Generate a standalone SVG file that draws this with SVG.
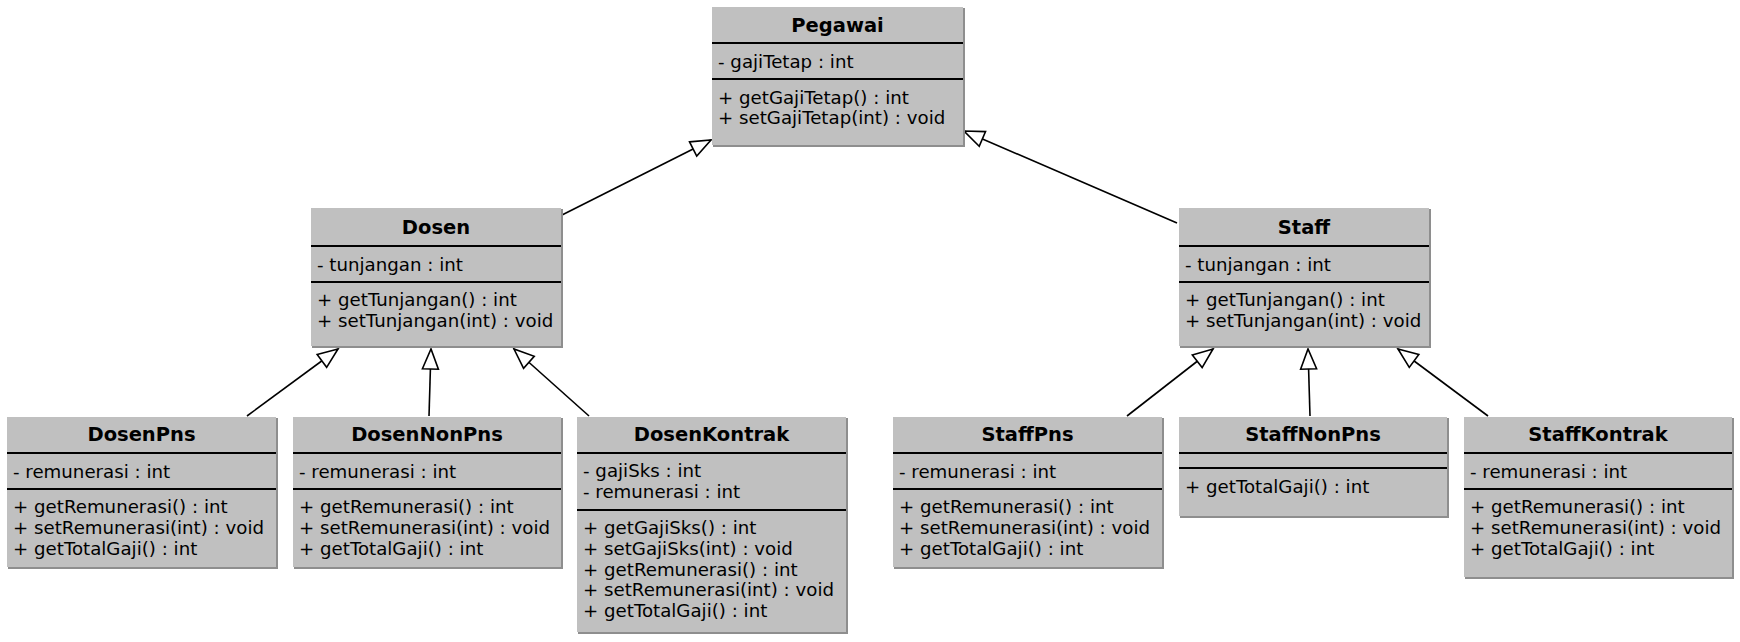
<svg xmlns="http://www.w3.org/2000/svg" width="1740" height="642" viewBox="0 0 1740 642">
<defs>
<style>
.box{fill:#c0c0c0;}
.shadow{fill:#8e8e8e;}
.sep{stroke:#000;stroke-width:2;}
.title{font-family:"DejaVu Sans",sans-serif;font-size:19.5px;font-weight:bold;text-anchor:middle;fill:#000;}
.txt{font-family:"DejaVu Sans",sans-serif;font-size:18.2px;fill:#000;}
.edge{stroke:#000;stroke-width:1.6;fill:none;marker-end:url(#gen);}
</style>
<marker id="gen" viewBox="0 0 22 18" refX="21" refY="9" markerWidth="22" markerHeight="18" markerUnits="userSpaceOnUse" orient="auto" overflow="visible">
<path d="M1,1 L21,9 L1,17 Z" fill="#fff" stroke="#000" stroke-width="1.6" stroke-linejoin="miter"/>
</marker>
</defs>
<rect width="1740" height="642" fill="#fff"/>

<g id="connectors">
<line class="edge" x1="562" y1="215" x2="711" y2="140"/>
<line class="edge" x1="1177" y1="223" x2="964" y2="131"/>
<line class="edge" x1="247" y1="416" x2="338" y2="349"/>
<line class="edge" x1="429" y1="416" x2="431" y2="349"/>
<line class="edge" x1="589" y1="416" x2="514" y2="349"/>
<line class="edge" x1="1127" y1="416" x2="1213" y2="349"/>
<line class="edge" x1="1310" y1="416" x2="1308" y2="349"/>
<line class="edge" x1="1488" y1="416" x2="1398" y2="349"/>
</g>

<g id="Pegawai">
<rect class="shadow" x="713" y="8" width="252" height="139"/>
<rect class="box" x="712" y="7" width="251" height="138"/>
<line class="sep" x1="712" y1="43" x2="963" y2="43"/>
<line class="sep" x1="712" y1="79" x2="963" y2="79"/>
<text class="title" x="837.5" y="32">Pegawai</text>
<text class="txt" x="718" y="68">- gajiTetap : int</text>
<text class="txt" x="718" y="104">+ getGajiTetap() : int</text>
<text class="txt" x="718" y="124">+ setGajiTetap(int) : void</text>
</g>

<g id="Dosen">
<rect class="shadow" x="312" y="209" width="251" height="139"/>
<rect class="box" x="311" y="208" width="250" height="138"/>
<line class="sep" x1="311" y1="246" x2="561" y2="246"/>
<line class="sep" x1="311" y1="282" x2="561" y2="282"/>
<text class="title" x="436" y="234">Dosen</text>
<text class="txt" x="317" y="271">- tunjangan : int</text>
<text class="txt" x="317" y="306">+ getTunjangan() : int</text>
<text class="txt" x="317" y="327">+ setTunjangan(int) : void</text>
</g>

<g id="Staff">
<rect class="shadow" x="1180" y="209" width="251" height="139"/>
<rect class="box" x="1179" y="208" width="250" height="138"/>
<line class="sep" x1="1179" y1="246" x2="1429" y2="246"/>
<line class="sep" x1="1179" y1="282" x2="1429" y2="282"/>
<text class="title" x="1304" y="234">Staff</text>
<text class="txt" x="1185" y="271">- tunjangan : int</text>
<text class="txt" x="1185" y="306">+ getTunjangan() : int</text>
<text class="txt" x="1185" y="327">+ setTunjangan(int) : void</text>
</g>

<g id="DosenPns">
<rect class="shadow" x="8" y="418" width="270" height="151"/>
<rect class="box" x="7" y="417" width="269" height="150"/>
<line class="sep" x1="7" y1="453" x2="276" y2="453"/>
<line class="sep" x1="7" y1="489" x2="276" y2="489"/>
<text class="title" x="141.5" y="441">DosenPns</text>
<text class="txt" x="13" y="478">- remunerasi : int</text>
<text class="txt" x="13" y="513">+ getRemunerasi() : int</text>
<text class="txt" x="13" y="534">+ setRemunerasi(int) : void</text>
<text class="txt" x="13" y="555">+ getTotalGaji() : int</text>
</g>

<g id="DosenNonPns">
<rect class="shadow" x="294" y="418" width="269" height="151"/>
<rect class="box" x="293" y="417" width="268" height="150"/>
<line class="sep" x1="293" y1="453" x2="561" y2="453"/>
<line class="sep" x1="293" y1="489" x2="561" y2="489"/>
<text class="title" x="427" y="441">DosenNonPns</text>
<text class="txt" x="299" y="478">- remunerasi : int</text>
<text class="txt" x="299" y="513">+ getRemunerasi() : int</text>
<text class="txt" x="299" y="534">+ setRemunerasi(int) : void</text>
<text class="txt" x="299" y="555">+ getTotalGaji() : int</text>
</g>

<g id="DosenKontrak">
<rect class="shadow" x="578" y="418" width="270" height="216"/>
<rect class="box" x="577" y="417" width="269" height="215"/>
<line class="sep" x1="577" y1="453" x2="846" y2="453"/>
<line class="sep" x1="577" y1="510" x2="846" y2="510"/>
<text class="title" x="711.5" y="441">DosenKontrak</text>
<text class="txt" x="583" y="477">- gajiSks : int</text>
<text class="txt" x="583" y="498">- remunerasi : int</text>
<text class="txt" x="583" y="534">+ getGajiSks() : int</text>
<text class="txt" x="583" y="555">+ setGajiSks(int) : void</text>
<text class="txt" x="583" y="576">+ getRemunerasi() : int</text>
<text class="txt" x="583" y="596">+ setRemunerasi(int) : void</text>
<text class="txt" x="583" y="617">+ getTotalGaji() : int</text>
</g>

<g id="StaffPns">
<rect class="shadow" x="894" y="418" width="270" height="151"/>
<rect class="box" x="893" y="417" width="269" height="150"/>
<line class="sep" x1="893" y1="453" x2="1162" y2="453"/>
<line class="sep" x1="893" y1="489" x2="1162" y2="489"/>
<text class="title" x="1027.5" y="441">StaffPns</text>
<text class="txt" x="899" y="478">- remunerasi : int</text>
<text class="txt" x="899" y="513">+ getRemunerasi() : int</text>
<text class="txt" x="899" y="534">+ setRemunerasi(int) : void</text>
<text class="txt" x="899" y="555">+ getTotalGaji() : int</text>
</g>

<g id="StaffNonPns">
<rect class="shadow" x="1180" y="418" width="269" height="100"/>
<rect class="box" x="1179" y="417" width="268" height="99"/>
<line class="sep" x1="1179" y1="453" x2="1447" y2="453"/>
<line class="sep" x1="1179" y1="468" x2="1447" y2="468"/>
<text class="title" x="1313" y="441">StaffNonPns</text>
<text class="txt" x="1185" y="493">+ getTotalGaji() : int</text>
</g>

<g id="StaffKontrak">
<rect class="shadow" x="1465" y="418" width="269" height="161"/>
<rect class="box" x="1464" y="417" width="268" height="160"/>
<line class="sep" x1="1464" y1="453" x2="1732" y2="453"/>
<line class="sep" x1="1464" y1="489" x2="1732" y2="489"/>
<text class="title" x="1598" y="441">StaffKontrak</text>
<text class="txt" x="1470" y="478">- remunerasi : int</text>
<text class="txt" x="1470" y="513">+ getRemunerasi() : int</text>
<text class="txt" x="1470" y="534">+ setRemunerasi(int) : void</text>
<text class="txt" x="1470" y="555">+ getTotalGaji() : int</text>
</g>
</svg>
